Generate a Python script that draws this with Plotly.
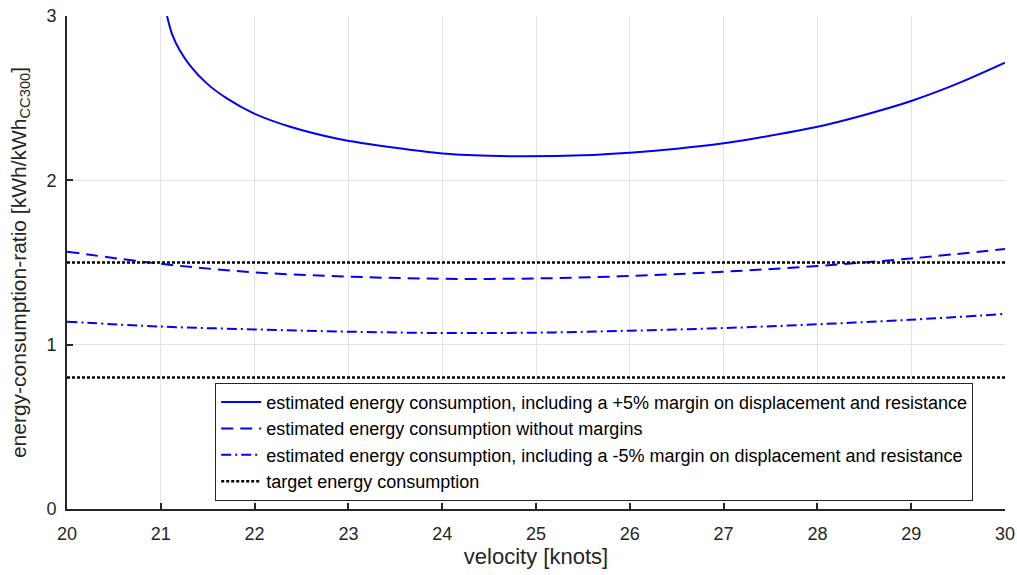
import plotly.graph_objects as go

# velocity [knots] and energy-consumption ratios
v_plus = [21.066, 21.12, 21.2, 21.31, 21.49, 21.70, 21.99, 22.38, 22.91, 23.5, 24.0, 24.5, 24.9, 25.5, 26.0, 26.5, 27.0, 27.28, 28.0, 28.5, 29.0, 29.5, 30.0]
e_plus = [3.0, 2.89, 2.793, 2.70, 2.59, 2.50, 2.408, 2.326, 2.25, 2.198, 2.164, 2.150, 2.146, 2.152, 2.168, 2.192, 2.225, 2.25, 2.326, 2.398, 2.483, 2.59, 2.716]

v_nom = [20, 21, 22, 23, 24, 25, 26, 27, 28, 29, 30]
e_nom = [1.566, 1.492, 1.44, 1.414, 1.401, 1.403, 1.418, 1.444, 1.479, 1.525, 1.582]

v_minus = [20, 21, 22, 23, 24, 25, 26, 27, 28, 29, 30]
e_minus = [1.14, 1.11, 1.093, 1.079, 1.071, 1.073, 1.085, 1.101, 1.124, 1.152, 1.187]

v_target = [20, 30]
target_hi = [1.5, 1.5]
target_lo = [0.8, 0.8]

names = [
    "estimated energy consumption, including a +5% margin on displacement and resistance",
    "estimated energy consumption without margins",
    "estimated energy consumption, including a -5% margin on displacement and resistance",
    "target energy consumption",
]

blue = "#0000ff"
fig = go.Figure()
fig.add_trace(go.Scatter(x=v_plus, y=e_plus, mode="lines", name=names[0],
                         line=dict(color=blue, width=2, shape="spline", smoothing=0.8)))
fig.add_trace(go.Scatter(x=v_nom, y=e_nom, mode="lines", name=names[1],
                         line=dict(color=blue, width=2, shape="spline", dash="12px,7px")))
fig.add_trace(go.Scatter(x=v_minus, y=e_minus, mode="lines", name=names[2],
                         line=dict(color=blue, width=2, shape="spline", dash="10px,4px,2px,4px")))
fig.add_trace(go.Scatter(x=v_target, y=target_hi, mode="lines", name=names[3],
                         line=dict(color="black", width=2.5, dash="3px,2px")))
fig.add_trace(go.Scatter(x=v_target, y=target_lo, mode="lines", name=names[3], showlegend=False,
                         line=dict(color="black", width=2.5, dash="3px,2px")))

axis_common = dict(
    showgrid=True, gridcolor="#e3e3e3", gridwidth=1,
    showline=True, linecolor="#262626", linewidth=2,
    ticks="inside", ticklen=6, tickcolor="#262626", tickwidth=1.5,
    zeroline=False, automargin=False,
    tickfont=dict(family="Liberation Sans, Arial", size=18, color="#262626"),
)

fig.update_layout(
    width=1017, height=575,
    margin=dict(l=67, r=12, t=16, b=66),
    plot_bgcolor="white", paper_bgcolor="white",
    font=dict(family="Liberation Sans, Arial", color="#262626"),
    xaxis=dict(range=[20, 30], dtick=1, ticklabelstandoff=7, **axis_common,
               title=dict(text="velocity [knots]", font=dict(size=22, color="#262626"), standoff=4)),
    yaxis=dict(range=[0, 3], dtick=1, ticklabelstandoff=5, **axis_common,
               title=dict(text="energy-consumption-ratio [kWh/kWh<sub>CC300</sub>]",
                          font=dict(size=21, color="#262626"), standoff=14)),
    legend=dict(x=0.158, y=0.256, xanchor="left", yanchor="top",
                bgcolor="white", bordercolor="#262626", borderwidth=1,
                font=dict(size=18, color="#000000"), tracegroupgap=0, itemwidth=40),
    showlegend=True,
)

fig.write_html("out.html")
